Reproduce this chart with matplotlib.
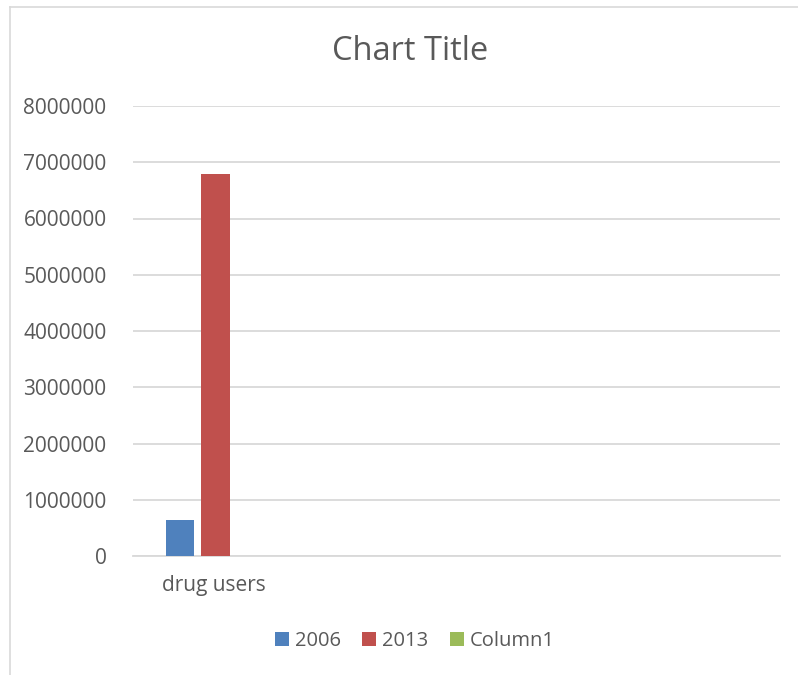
import numpy as np
import matplotlib
matplotlib.use("Agg")
import matplotlib.pyplot as plt
from matplotlib.lines import Line2D
from matplotlib.patches import Patch

categories = ["drug users", "", "", ""]
series_names = ["2006", "2013", "Column1"]
values_2006 = [640000, 0, 0, 0]
values_2013 = [6800000, 0, 0, 0]
values_col1 = [0, 0, 0, 0]
colors = ["#4F81BD", "#C0504D", "#9BBB59"]

plt.rcParams["font.family"] = ["Open Sans", "DejaVu Sans"]
text_color = "#595959"
grid_color = "#D9D9D9"

fig = plt.figure(figsize=(7.98, 6.75), dpi=100)
# chart area border (only top and left edges visible in the crop)
fig.lines.append(Line2D([10 / 798, 1.0], [1 - 7 / 675, 1 - 7 / 675],
                        transform=fig.transFigure, color=grid_color, linewidth=1.2))
fig.lines.append(Line2D([10 / 798, 10 / 798], [0.0, 1 - 7 / 675],
                        transform=fig.transFigure, color=grid_color, linewidth=1.2))

ax = fig.add_axes([133 / 798, 119 / 675, 647 / 798, 450 / 675])

# Excel-like clustered columns: gap 219%, overlap -27%
n = len(series_names)
w = 1 / (n + 2 * 0.27 + 2.19)
step = w * 1.27
x = np.arange(len(categories))
for i, (vals, c) in enumerate(zip([values_2006, values_2013, values_col1], colors)):
    offs = (i - (n - 1) / 2) * step
    ax.bar(x + offs + 0.01, vals, width=w, color=c, label=series_names[i], zorder=3)

ax.set_xlim(-0.5, len(categories) - 0.5)
ax.set_ylim(0, 8000000)
ax.set_yticks(np.arange(0, 8000001, 1000000))
ax.yaxis.set_major_formatter(matplotlib.ticker.FuncFormatter(lambda v, p: f"{int(v)}"))
ax.set_xticks(x)
ax.set_xticklabels(categories)
ax.tick_params(axis="both", length=0, labelsize=15, colors=text_color)
ax.tick_params(axis="y", pad=19)
ax.tick_params(axis="x", pad=14)
ax.grid(axis="y", color=grid_color, linewidth=1.3, zorder=0)
for s in ["left", "right", "top"]:
    ax.spines[s].set_visible(False)
ax.spines["bottom"].set_color(grid_color)
ax.spines["bottom"].set_linewidth(1.3)

fig.text(410 / 798, 1 - 51 / 675, "Chart Title", ha="center", va="center",
         fontsize=23.5, color=text_color)

handles = [Patch(facecolor=c, label=s) for s, c in zip(series_names, colors)]
fig.legend(handles=handles, loc="center", bbox_to_anchor=(415 / 798, 1 - 641 / 675),
           ncol=3, frameon=False, fontsize=14.5, labelcolor=text_color,
           handlelength=0.7, handleheight=0.7, handletextpad=0.3, columnspacing=1.05)

fig.savefig("out.png", dpi=100)
